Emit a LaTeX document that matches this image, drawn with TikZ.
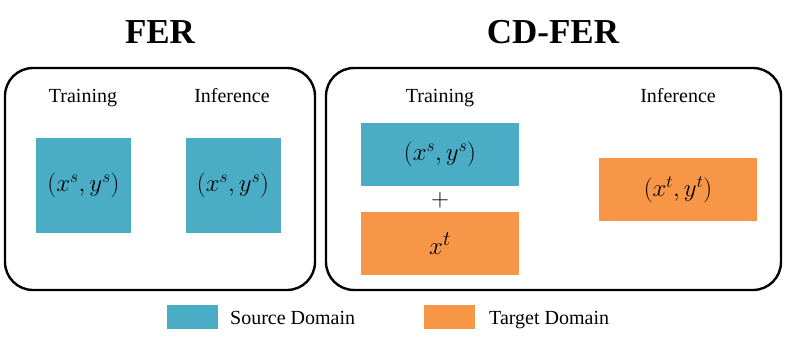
\documentclass[tikz,border=0pt]{standalone}
\usepackage{fontspec}
\setmainfont{Liberation Serif}
\usepackage{xcolor}
\definecolor{srcblue}{HTML}{4BACC6}
\definecolor{tgtorange}{HTML}{F79646}
\usetikzlibrary{positioning}

\begin{document}
\begin{tikzpicture}[x=1pt,y=-1pt,
  panel/.style={draw=black,line width=2.4pt,rounded corners=28pt,inner sep=0pt},
  title/.style={font=\fontsize{35}{40}\selectfont\bfseries,inner sep=0pt},
  phase/.style={font=\fontsize{20}{24}\selectfont,inner sep=0pt,anchor=base},
  src/.style={fill=srcblue,inner sep=0pt,font=\fontsize{25}{29}\selectfont},
  tgt/.style={fill=tgtorange,inner sep=0pt,font=\fontsize{24}{28}\selectfont},
  legtext/.style={font=\fontsize{20}{24}\selectfont,inner sep=0pt,anchor=base west}]
  \useasboundingbox (0,0) rectangle (787,343);
  % titles
  \node[title] (fertitle) at (160,32) {FER};
  \node[title] (cdtitle) at (553,32) {CD-FER};
  % panels
  \node[panel,minimum width=310pt,minimum height=222pt] (ferpanel) at (160,179) {};
  \node[panel,minimum width=455pt,minimum height=222pt] (cdpanel) at (553.5,179) {};
  % FER
  \node[phase] (fertrain) at (83,102) {Training};
  \node[phase] (ferinfer) at (232,102) {Inference};
  \node[src,minimum width=95pt,minimum height=95pt] (fersrc) at (83.5,185.5) {$(x^s,y^s)$};
  \node[src,minimum width=95pt,minimum height=95pt] (fersrcinf) at (233,185.5) {$(x^s,y^s)$};
  % CD-FER
  \node[phase] (cdtrain) at (440,102) {Training};
  \node[phase] (cdinfer) at (678,102) {Inference};
  \node[src,minimum width=158pt,minimum height=63pt] (cdsrc) at (440,154.5) {$(x^s,y^s)$};
  \node[inner sep=0pt,font=\fontsize{24}{28}\selectfont] (plus) at (440,200) {$+$};
  \node[tgt,minimum width=158pt,minimum height=63pt,below=26pt of cdsrc,
    font=\fontsize{31}{35}\selectfont] (cdtgt) {$x^t$};
  \node[tgt,minimum width=158pt,minimum height=63pt] (cdtgtinf) at (678,189.5) {$(x^t,y^t)$};
  % legend
  \node[src,minimum width=51pt,minimum height=24pt] (legsrc) at (192.5,317) {};
  \node[legtext] (legsrctext) at (230,324) {Source Domain};
  \node[tgt,minimum width=51pt,minimum height=24pt] (legtgt) at (449.5,317) {};
  \node[legtext] (legtgttext) at (489,324) {Target Domain};
\end{tikzpicture}
\end{document}
